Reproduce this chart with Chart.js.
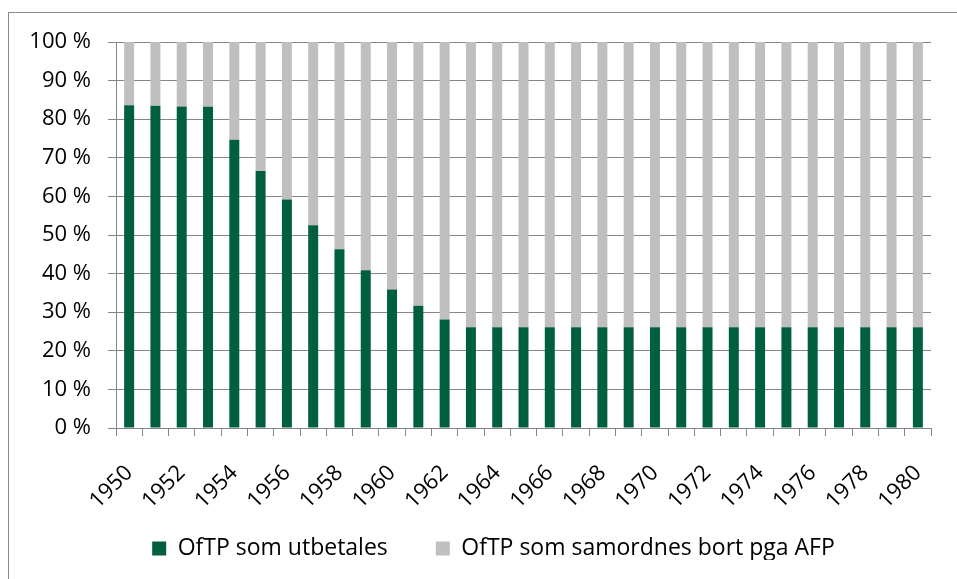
<!DOCTYPE html>
<html>
<head>
<meta charset="utf-8">
<script src="https://cdn.jsdelivr.net/npm/chart.js@4/dist/chart.umd.min.js"></script>
<style>
  body { margin: 0; background: #fff; }
  #wrap { position: relative; width: 957px; height: 579px; overflow: hidden; }
  #frame { position: absolute; left: 8px; top: 12px; width: 960px; height: 580px;
           border-left: 1px solid #8c8c8c; border-top: 1px solid #8c8c8c; }
  canvas { position: absolute; left: 0; top: 0; }
</style>
</head>
<body>
<div id="wrap">
  <div id="frame"></div>
  <canvas id="chart" width="957" height="579"></canvas>
</div>
<script>
// years on the x axis
var years = [];
for (var y = 1950; y <= 1980; y++) years.push(String(y));

// share paid out (green)
var utbetales = [83.6, 83.5, 83.3, 83.2, 74.7, 66.6, 59.2, 52.5, 46.3, 40.9, 35.9, 31.7, 28.1,
  26.1, 26.1, 26.1, 26.1, 26.1, 26.1, 26.1, 26.1, 26.1, 26.1, 26.1, 26.1, 26.1, 26.1, 26.1, 26.1, 26.1, 26.1];

// share coordinated away because of AFP (grey)
var samordnes = [16.4, 16.5, 16.7, 16.8, 25.3, 33.4, 40.8, 47.5, 53.7, 59.1, 64.1, 68.3, 71.9,
  73.9, 73.9, 73.9, 73.9, 73.9, 73.9, 73.9, 73.9, 73.9, 73.9, 73.9, 73.9, 73.9, 73.9, 73.9, 73.9, 73.9, 73.9];

var labelUtbetales = 'OfTP som utbetales';
var labelSamordnes = 'OfTP som samordnes bort pga AFP';

Chart.defaults.font.family = "'Open Sans', 'Noto Sans', sans-serif";
Chart.defaults.font.size = 22;
Chart.defaults.color = '#000';

// fixed legend height, then nudge it so it sits like the original
var legendFit = {
    id: 'legendFit',
    beforeLayout: function(chart) {
        var lg = chart.legend;
        if (lg && !lg._patched) {
            var orig = lg.fit;
            lg.fit = function() {
                orig.call(this);
                this.height = 71;
            };
            lg._patched = true;
        }
    },
    afterLayout: function(chart) {
        var lg = chart.legend;
        if (lg) {
            lg.left += 18;
            lg.right += 18;
            lg.top -= 19;
            lg.bottom -= 19;
        }
    }
};

var ctx = document.getElementById('chart').getContext('2d');
var myChart = new Chart(ctx, {
    type: 'bar',
    data: {
        labels: years,
        datasets: [
            {
                label: labelUtbetales,
                data: utbetales,
                backgroundColor: '#005f3e',
                barPercentage: 0.38,
                categoryPercentage: 1
            },
            {
                label: labelSamordnes,
                data: samordnes,
                backgroundColor: '#bfbfbf',
                barPercentage: 0.38,
                categoryPercentage: 1
            }
        ]
    },
    options: {
        responsive: false,
        animation: false,
        devicePixelRatio: 1,
        layout: { padding: { left: 20, right: 26, top: 42, bottom: 0 } },
        plugins: {
            tooltip: { enabled: false },
            legend: {
                position: 'bottom',
                labels: {
                    boxWidth: 14,
                    boxHeight: 14,
                    padding: 48,
                    font: { size: 23 }
                }
            }
        },
        scales: {
            x: {
                stacked: true,
                grid: {
                    offset: true,
                    drawOnChartArea: false,
                    drawTicks: true,
                    tickLength: 8,
                    color: '#868686'
                },
                border: { color: '#868686', width: 1 },
                ticks: {
                    autoSkip: false,
                    maxRotation: 45,
                    minRotation: 45,
                    padding: 24,
                    font: { size: 22 },
                    callback: function(val, i) {
                        return i % 2 === 0 ? this.getLabelForValue(val) : '';
                    }
                },
                afterFit: function(scale) {
                    scale.height = 80;
                    scale.paddingLeft = 0;
                    scale.paddingRight = 0;
                }
            },
            y: {
                stacked: true,
                min: 0,
                max: 100,
                grid: {
                    color: '#868686',
                    tickLength: 8
                },
                border: { color: '#868686', width: 1 },
                ticks: {
                    stepSize: 10,
                    padding: 17,
                    font: { size: 22 },
                    callback: function(v) { return v + ' %'; }
                },
                afterFit: function(scale) { scale.width = 96; }
            }
        }
    },
    plugins: [legendFit]
});
</script>
</body>
</html>
